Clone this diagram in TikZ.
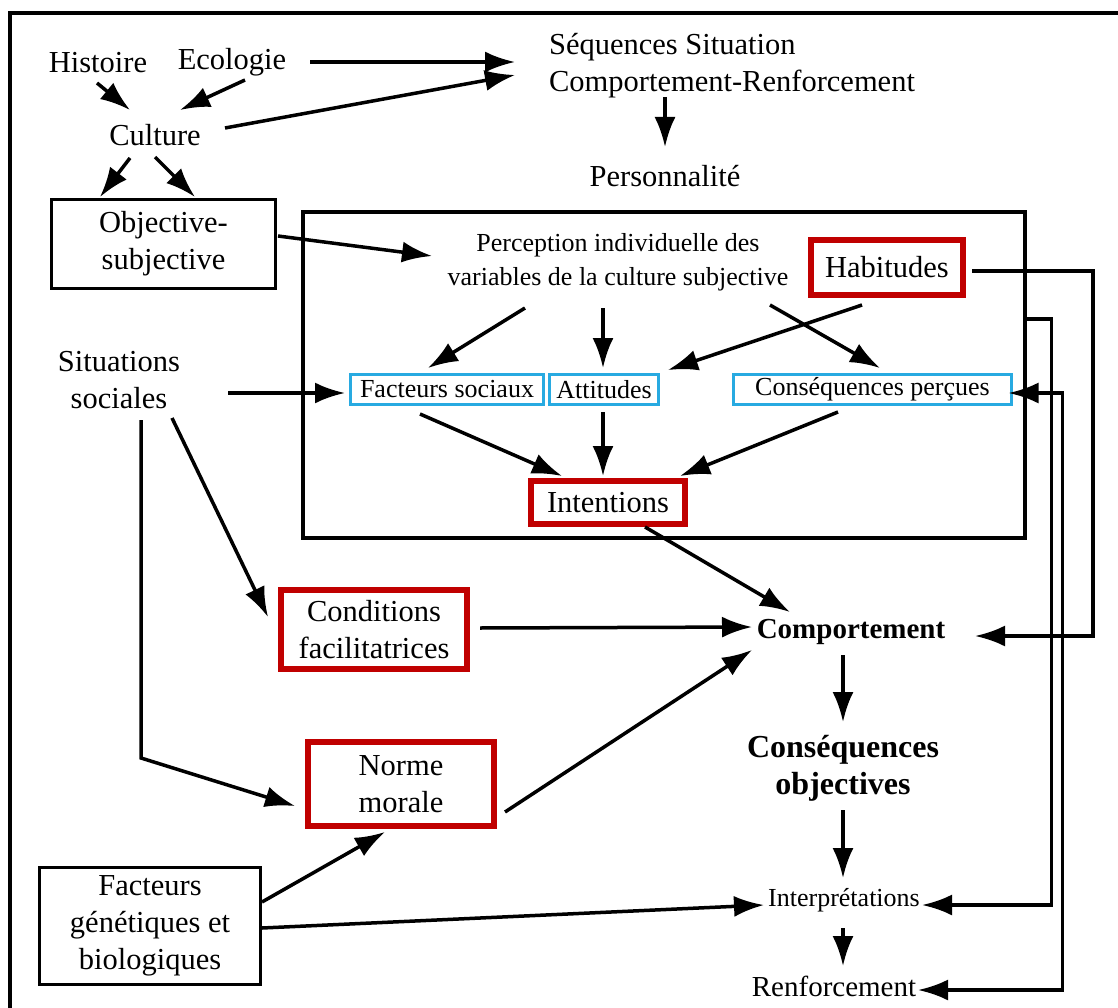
\documentclass[tikz,border=0pt]{standalone}
\usepackage{fontspec}
\setmainfont{Liberation Serif}
\usepackage{tikz}
\usetikzlibrary{arrows.meta}
\definecolor{redline}{RGB}{192,0,0}
\definecolor{blueline}{RGB}{40,170,225}
\tikzstyle{lbl}=[inner sep=0pt, align=center, font=\fontsize{30.5}{37}\selectfont]
\tikzstyle{lblsmall}=[inner sep=0pt, align=center, font=\fontsize{26}{34}\selectfont]
\tikzstyle{lblbold}=[inner sep=0pt, align=center, font=\fontsize{29}{37}\selectfont\bfseries]
\tikzstyle{blackbox}=[rectangle, draw=black, line width=3.5pt, inner sep=0pt, align=center, font=\fontsize{30.5}{37}\selectfont]
\tikzstyle{redbox}=[rectangle, draw=redline, line width=6pt, inner sep=0pt, align=center, font=\fontsize{30.5}{37}\selectfont]
\tikzstyle{bluebox}=[rectangle, draw=blueline, line width=3pt, inner sep=0pt, align=center, font=\fontsize{26}{34}\selectfont]
\tikzstyle{arrow}=[draw=black, line width=3.5pt, ->, >={Latex[length=30pt, width=21pt]}]

\begin{document}
\begin{tikzpicture}[x=1pt, y=-1pt]
		   \useasboundingbox (0,0) rectangle (1118,1008);
		   \draw[line width=4pt] (10,1012) -- (10,13) -- (1122,13);
		   \begin{scope}
			   \node (hist) at (98, 63) [lbl] {Histoire};
			   \node (eco) at (232, 62) [lbl] {Ecologie};
			   \node (seq) at (732, 66) [lbl, align=left] {Séquences Situation\\Comportement-Renforcement};
			   \node (pers) at (665, 176) [lbl] {Personnalité};
			   \node (cul) at (155, 135) [lbl] {Culture};
			   \node (obj) at (163.5, 244) [blackbox, minimum width=224, minimum height=89] {Objective-\\subjective};

			   \node (box) at (664, 375) [rectangle, draw=black, line width=4.5pt, minimum width=722, minimum height=326] {};
			   \node (perc) at (618, 262) [lblsmall] {Perception individuelle des\\variables de la culture subjective};
			   \node (hab) at (887, 267.5) [redbox, minimum width=152, minimum height=55] {Habitudes};
			   \node (fs) at (447, 389.5) [bluebox, minimum width=193, minimum height=30] {Facteurs sociaux};
			   \node (att) at (604, 389.5) [bluebox, minimum width=109, minimum height=30] {Attitudes};
			   \node (csqp) at (872.5, 389.5) [bluebox, minimum width=278, minimum height=30] {Conséquences perçues};
			   \node (int) at (608, 502.5) [redbox, minimum width=154, minimum height=43] {Intentions};

			   \node (sit) at (119, 380) [lbl] {Situations\\sociales};
			   \node (cond) at (374, 629.5) [redbox, minimum width=186, minimum height=79] {Conditions\\facilitatrices};
			   \node (norm) at (401, 784) [redbox, minimum width=186, minimum height=84] {Norme\\morale};
			   \node (gen) at (150, 926) [blackbox, minimum width=221, minimum height=117] {Facteurs\\génétiques et\\biologiques};

			   \node (comp) at (851, 632) [lblbold] {Comportement};
			   \node (csqo) at (843, 768) [lblbold, font=\fontsize{32}{37}\selectfont\bfseries] {Conséquences\\objectives};
			   \node (interp) at (844, 900) [lblsmall] {Interprétations};
			   \node (renf) at (834, 986) [lbl, font=\fontsize{29}{37}\selectfont] {Renforcement};
		   \end{scope}
		   \begin{scope}
			   \path ([shift={(-1,20)}]hist.center) edge [arrow] ([shift={(-25,-25)}]cul.center);
			   \path ([shift={(13,18)}]eco.center) edge [arrow] ([shift={(25,-25)}]cul.center);
			   \path ([shift={(78,0)}]eco.center) edge [arrow] ([shift={(-217,-4)}]seq.center);
			   \path ([shift={(70,-7)}]cul.center) edge [arrow] ([shift={(-217,9)}]seq.center);
			   \path ([shift={(-25,23)}]cul.center) edge [arrow] ([shift={(-63.5,-47)}]obj.center);
			   \path ([shift={(0,22)}]cul.center) edge [arrow] ([shift={(31.5,-47)}]obj.center);
			   \path ([shift={(-67,31)}]seq.center) edge [arrow] ([shift={(0,-29)}]pers.center);
			   \path ([shift={(114.5,-8)}]obj.center) edge [arrow] ([shift={(-186,-6)}]perc.center);

			   \path ([shift={(-93,46)}]perc.center) edge [arrow] ([shift={(-19,-21.5)}]fs.center);
			   \path ([shift={(-15,46)}]perc.center) edge [arrow] ([shift={(-1,-21.5)}]att.center);
			   \path ([shift={(152,43)}]perc.center) edge [arrow] ([shift={(7.5,-21.5)}]csqp.center);
			   \path ([shift={(-25,37.5)}]hab.center) edge [arrow] ([shift={(64,-19.5)}]att.center);
			   \path ([shift={(109,13)}]sit.center) edge [arrow] ([shift={(-102,3.5)}]fs.center);
			   \path ([shift={(-27,24.5)}]fs.center) edge [arrow] ([shift={(-46,-26.5)}]int.center);
			   \path ([shift={(-1,22.5)}]att.center) edge [arrow] ([shift={(-5,-26.5)}]int.center);
			   \path ([shift={(-34.5,22.5)}]csqp.center) edge [arrow] ([shift={(72,-26.5)}]int.center);

			   \path ([shift={(37,24.5)}]int.center) edge [arrow] ([shift={(-61,-20)}]comp.center);
			   \path ([shift={(106,-1.5)}]cond.center) edge [arrow] ([shift={(-99,-5)}]comp.center);
			   \path ([shift={(104,28)}]norm.center) edge [arrow] ([shift={(-99,18)}]comp.center);
			   \path ([shift={(53,38)}]sit.center) edge [arrow] ([shift={(-106,-12.5)}]cond.center);
			   \draw [arrow] ([shift={(22,40)}]sit.center) -- ++(0,338) -- ([shift={(-106,22)}]norm.center);
			   \path ([shift={(112,-24)}]gen.center) edge [arrow] ([shift={(-16,48)}]norm.center);
			   \path ([shift={(112,2)}]gen.center) edge [arrow] ([shift={(-80,5)}]interp.center);

			   \path ([shift={(-8,23)}]comp.center) edge [arrow] ([shift={(0,-46)}]csqo.center);
			   \path ([shift={(0,42)}]csqo.center) edge [arrow] ([shift={(-1,-22)}]interp.center);
			   \path ([shift={(-1,28)}]interp.center) edge [arrow] ([shift={(9,-20)}]renf.center);

			   \draw [arrow] ([shift={(85,3.5)}]hab.center) -- ++(121,0) |- ([shift={(124,4)}]comp.center);
			   \draw [arrow] ([shift={(0,-56)}]box.east) -- ++(24,0) |- ([shift={(78,5)}]interp.center);
			   \draw [arrow, <->] ([shift={(136,3.5)}]csqp.center) -- ++(54,0) |- ([shift={(84,4)}]renf.center);
		   \end{scope}
	   \end{tikzpicture}
\end{document}
